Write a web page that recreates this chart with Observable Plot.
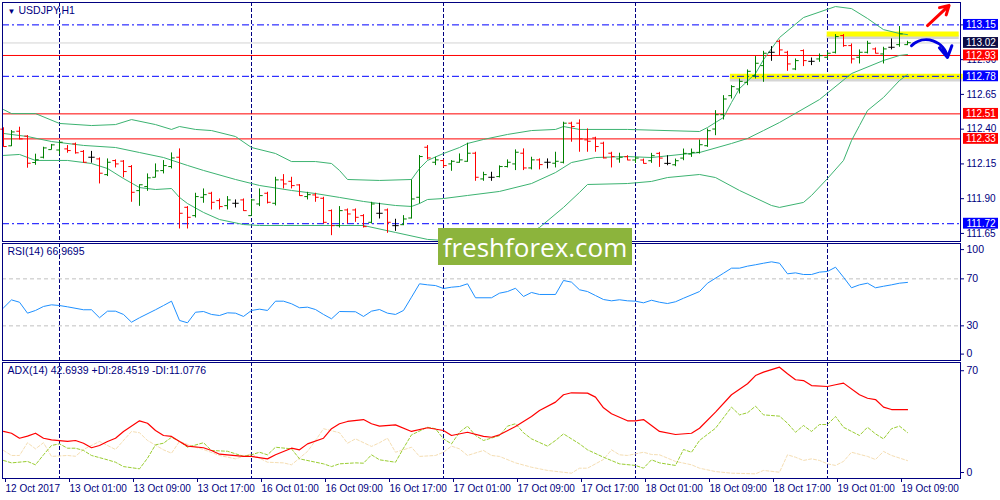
<!DOCTYPE html>
<html><head><meta charset="utf-8">
<script src="https://cdn.jsdelivr.net/npm/d3@7"></script>
<script src="https://cdn.jsdelivr.net/npm/@observablehq/plot@0.6"></script>
<style>
body{margin:0;background:#fff;}
#wrap{position:relative;width:1000px;height:500px;overflow:hidden;background:#fff;}
#wrap svg{position:absolute;}
#wm{position:absolute;left:438px;top:228px;width:194px;height:37px;background:#8cb43c;color:#fff;font:26px "Open Sans",sans-serif;display:flex;align-items:center;justify-content:center;letter-spacing:0px;}
</style></head><body><div id="wrap"></div>
<script>
// ---- DATA ----
const title = "USDJPY,H1";
const rsiTitle = "RSI(14) 66.9695";
const adxTitle = "ADX(14) 42.6939 +DI:28.4519 -DI:11.0776";
const openP = [112.40,112.28,112.385,112.35,112.16,112.198,112.253,112.25,112.258,112.294,112.24,112.198,112.186,112.073,112.174,112.17,112.131,111.958,111.987,112.054,
112.102,112.131,112.198,111.838,111.778,111.91,111.939,111.886,111.85,111.867,111.891,111.778,111.862,111.939,111.867,112.035,112.025,111.999,111.915,111.927,
111.903,111.814,111.706,111.819,111.819,111.778,111.73,111.795,111.819,111.706,111.713,111.761,111.91,112.27,112.162,112.174,112.15,112.162,112.169,112.227,
112.042,112.054,112.059,112.131,112.15,112.227,112.121,112.179,112.162,112.155,112.162,112.443,112.443,112.323,112.337,112.299,112.227,112.186,112.202,112.178,
112.178,112.173,112.226,112.154,112.144,112.192,112.221,112.233,112.281,112.401,112.504,112.641,112.689,112.737,112.785,112.857,112.953,113.032,112.953,112.833,
112.965,112.888,112.905,112.917,112.953,113.073,113.001,112.917,112.953,112.977,112.941,112.989,113.008,113.008];
const highP = [112.41,112.39,112.414,112.354,112.22,112.27,112.29,112.313,112.282,112.30,112.246,112.24,112.193,112.186,112.179,112.174,112.138,112.0,112.078,112.15,
112.174,112.229,112.258,111.843,111.939,111.97,111.946,111.898,111.915,111.891,111.898,111.896,111.97,111.946,112.054,112.073,112.054,112.001,111.946,111.939,
111.91,111.819,111.843,111.826,111.826,111.785,111.874,111.867,111.826,111.752,111.778,112.035,112.21,112.282,112.198,112.179,112.174,112.222,112.299,112.234,
112.09,112.09,112.136,112.179,112.251,112.258,112.198,112.186,112.186,112.234,112.45,112.45,112.467,112.402,112.342,112.306,112.234,112.227,112.209,112.202,
112.185,112.226,112.233,112.209,112.185,112.257,112.257,112.322,112.401,112.533,112.641,112.713,112.761,112.826,112.922,112.96,112.994,113.04,112.96,112.905,
112.97,112.912,112.941,112.953,113.08,113.08,113.013,112.97,113.032,112.984,112.989,113.049,113.138,113.032];
const lowP = [112.27,112.275,112.323,112.119,112.14,112.186,112.25,112.215,112.227,112.22,112.155,112.155,112.006,112.059,112.121,112.05,111.874,111.845,111.953,112.05,
112.078,112.114,111.682,111.682,111.761,111.867,111.819,111.819,111.819,111.833,111.809,111.776,111.843,111.862,111.848,111.97,111.97,111.917,111.891,111.874,
111.718,111.634,111.689,111.718,111.73,111.689,111.718,111.754,111.651,111.665,111.706,111.754,111.862,112.179,112.138,112.121,112.097,112.155,112.162,112.025,
112.025,112.025,112.049,112.121,112.102,112.102,112.107,112.107,112.114,112.121,112.15,112.306,112.234,112.234,112.234,112.186,112.121,112.155,112.173,112.154,
112.149,112.154,112.125,112.137,112.13,112.173,112.197,112.221,112.269,112.353,112.466,112.617,112.653,112.713,112.761,112.737,112.888,112.929,112.816,112.821,
112.85,112.857,112.881,112.905,112.941,112.989,112.869,112.869,112.941,112.941,112.869,112.97,112.989,113.001];
const closeP = [112.275,112.38,112.33,112.155,112.18,112.265,112.287,112.306,112.246,112.23,112.162,112.198,112.083,112.162,112.15,112.095,111.946,112.0,112.05,112.10,
112.138,112.193,111.795,111.766,111.915,111.929,111.874,111.843,111.891,111.867,111.814,111.891,111.922,111.874,112.035,112.006,111.994,111.922,111.929,111.91,
111.73,111.706,111.814,111.79,111.766,111.699,111.862,111.795,111.73,111.706,111.754,111.898,112.203,112.193,112.179,112.138,112.169,112.179,112.227,112.054,
112.073,112.054,112.131,112.162,112.234,112.121,112.179,112.145,112.162,112.169,112.443,112.419,112.33,112.313,112.275,112.193,112.203,112.198,112.178,112.192,
112.154,112.209,112.192,112.154,112.173,112.226,112.233,112.288,112.389,112.504,112.617,112.706,112.744,112.816,112.874,112.946,112.953,112.97,112.869,112.893,
112.893,112.888,112.929,112.946,113.066,113.001,112.905,112.953,113.018,112.946,112.977,112.989,113.085,113.022];

const bbUpper = [[0,112.541],[1,112.512],[4,112.512],[7,112.441],[11,112.426],[14,112.433],[16,112.469],[19,112.433],[21,112.398],[22,112.419],[24,112.398],[26,112.39],[29,112.347],[31,112.268],[34,112.225],[36,112.167],[39,112.167],[41,112.153],[42,112.103],[43,112.038],[47,112.031],[51,112.038],[52,112.117],[53,112.175],[55,112.225],[57,112.268],[58,112.297],[60,112.326],[63,112.362],[66,112.39],[69,112.398],[70,112.419],[72,112.398],[78,112.398],[87,112.383],[88,112.412],[90,112.484],[91,112.592],[92,112.692],[94,112.80],[95,112.90],[97,113.059],[100,113.203],[104,113.282],[106,113.267],[108,113.196],[110,113.116],[112,113.088],[113,113.08]];
const bbMiddle = [[0,112.369],[3,112.347],[6,112.311],[10,112.283],[14,112.268],[17,112.232],[20,112.196],[23,112.139],[25,112.103],[29,112.038],[32,111.995],[36,111.959],[39,111.937],[42,111.909],[45,111.88],[47,111.865],[49,111.851],[51,111.844],[52,111.865],[53,111.894],[55,111.901],[58,111.923],[62,111.952],[66,112.009],[69,112.088],[71,112.16],[74,112.196],[78,112.203],[81,112.196],[87,112.232],[91,112.297],[93,112.333],[95,112.39],[97,112.448],[102,112.613],[106,112.80],[110,112.894],[112,112.93],[113,112.937]];
const bbLower = [[0,112.211],[2,112.218],[4,112.175],[8,112.175],[11,112.153],[13,112.117],[15,112.045],[17,111.98],[19,111.966],[21,111.973],[22,111.909],[23,111.865],[25,111.801],[27,111.75],[30,111.714],[32,111.707],[35,111.707],[41,111.707],[45,111.707],[49,111.657],[53,111.607],[55,111.60],[60,111.57],[64,111.60],[67,111.693],[70,111.837],[72,111.945],[73,112.002],[78,112.009],[81,112.024],[83,112.052],[87,112.074],[89,112.052],[92,111.959],[96,111.851],[97,111.837],[100,111.873],[101,111.923],[103,112.045],[105,112.175],[106,112.318],[107,112.426],[108,112.534],[110,112.628],[112,112.75],[113,112.793]];

const rsi = [[0,45.3],[1,52.1],[2,50.1],[3,40.8],[4,43.1],[5,46.5],[6,47.9],[7,47.3],[8,46.2],[10,43.7],[11,43.7],[12,36.9],[13,42.5],[14,42.5],[15,39.7],[16,33.1],[17,36.9],[19,43.7],[20,47.3],[21,51],[22,34.6],[23,32.6],[24,41.6],[25,42.2],[26,39.7],[27,38.8],[28,41.1],[29,40.8],[30,38],[31,43.1],[32,44.2],[33,43.1],[34,51],[35,51],[36,48.8],[37,45.4],[38,45.9],[39,43.9],[40,39.7],[41,36],[42,42.2],[44,42],[45,38],[46,42.5],[47,43.9],[48,40.8],[49,39.7],[50,43.1],[51,54.4],[52,65.8],[53,64.9],[54,64.3],[55,61.8],[56,62.9],[57,63.5],[58,65.8],[59,53.9],[61,53.9],[62,57.8],[63,59.2],[64,62],[65,55],[66,58.4],[67,56.7],[69,56.7],[70,68.6],[71,67.2],[72,60.7],[73,59.2],[74,55.8],[75,52.4],[76,51.3],[77,52.2],[78,51.3],[79,51],[80,49.6],[81,51.8],[82,50.1],[83,49],[84,50.5],[85,53.5],[87,59.2],[88,66.3],[90,74.8],[91,79.1],[92,79.1],[93,80.8],[94,82],[95,83.3],[96,84.5],[97,83.3],[98,74.3],[99,75.1],[100,73.7],[101,73.7],[102,75.7],[103,76.3],[104,79.9],[105,71.4],[106,62.4],[107,64.9],[108,66.3],[109,62.4],[110,63.7],[111,64.9],[112,66.3],[113,66.97]];

const adx = [[0,29.2],[1,28.1],[2,25],[3,26.3],[4,28.1],[5,25],[6,24],[8,23],[9,23.6],[10,21.9],[11,19.1],[12,20.5],[13,23],[14,25],[15,29.2],[17,35.8],[18,34.3],[19,29.8],[20,26.7],[21,26.1],[22,23],[23,20.1],[25,19.1],[26,17.4],[27,15.1],[28,14.7],[30,13.7],[31,13.7],[33,12.2],[34,14.7],[36,18.8],[37,17.8],[38,21.5],[40,25],[41,30.9],[42,34],[43,35.4],[45,36.6],[46,34],[47,32.5],[49,33.3],[51,29.2],[53,31.5],[55,29.8],[56,26.7],[58,28.7],[60,26.1],[61,25.6],[62,27.1],[64,32.3],[66,38.5],[67,42.2],[69,47.4],[70,52],[71,53.2],[73,53],[74,50.5],[75,43.9],[76,40.2],[78,35.8],[79,35.8],[80,36.6],[81,32.9],[82,29.2],[84,27.3],[86,28.1],[87,31.2],[89,41.2],[91,52],[93,58.8],[94,63.9],[95,66],[97,69.1],[98,65],[99,61.3],[100,60.8],[101,57.7],[103,57.1],[104,58.2],[105,59.2],[107,52],[108,49.8],[109,49],[110,44.3],[111,42.8],[112,42.8],[113,42.7]];
const plusDI = [[0,11.2],[1,9.7],[3,10.6],[4,8.5],[5,14.7],[6,20.5],[7,21.5],[8,18.8],[9,18.8],[10,17.4],[11,14.3],[13,11.6],[14,10.1],[15,7.4],[17,6],[18,12.6],[19,20.9],[20,21.9],[21,25.6],[22,23],[23,19.4],[25,22.2],[26,17.4],[28,16.9],[30,13.8],[31,14.7],[32,16.3],[33,14.7],[34,19.4],[36,18.4],[37,12.2],[40,9.1],[41,7.4],[42,9.1],[44,9.7],[45,9.5],[46,14.7],[47,11.6],[49,10.1],[50,18.8],[51,27.1],[53,31.8],[54,30.9],[55,24.6],[56,21.5],[57,28.7],[58,32.5],[59,26.7],[60,23.6],[62,26.6],[63,32.5],[64,34],[65,28.4],[66,24.6],[68,20.1],[69,23.6],[70,27.7],[72,21.5],[73,17.8],[75,13.2],[77,9.1],[79,8.1],[80,6.4],[81,11.6],[82,9.7],[84,8.1],[85,18],[86,16.3],[87,23.6],[89,31.2],[91,44.3],[92,39.5],[93,40.8],[94,44.9],[95,39.5],[97,38.7],[98,34.3],[99,28.7],[100,32.9],[101,29.2],[102,33.5],[103,33.5],[104,38.5],[105,31.8],[107,26.7],[108,31.8],[109,27.7],[110,24.6],[111,30.9],[112,32.5],[113,28.5]];
const minusDI = [[0,17.4],[1,14.3],[2,14.3],[3,22.2],[4,18.4],[5,22.2],[6,13.7],[8,14.3],[9,13.8],[10,18],[12,23],[13,20.5],[14,18],[16,29.2],[17,28.4],[18,23.6],[20,17.8],[21,15.7],[22,23],[24,19.4],[25,18],[27,14.3],[29,12.2],[30,13.8],[31,15.3],[33,10.1],[35,9.7],[36,8.5],[38,16.8],[39,23.6],[40,30.9],[42,28.4],[43,21.9],[44,24.6],[46,19.9],[47,22.2],[48,25],[49,16.3],[51,19.4],[52,13.7],[54,14.3],[55,16.3],[56,20.1],[57,18.4],[58,14.3],[60,17.4],[61,14.3],[62,13.7],[64,9.7],[66,7],[68,5],[71,3.3],[72,6.4],[73,6.4],[75,11.8],[76,17.8],[77,14.7],[78,14.3],[80,16.3],[81,14.9],[82,14.7],[84,10.6],[86,8.5],[87,6.4],[89,4.3],[91,3.3],[94,2.9],[95,5],[97,3.9],[98,14.7],[99,13.2],[100,11.2],[101,12.2],[102,11.2],[103,9.1],[104,8.1],[105,10.6],[106,16.3],[108,13.7],[109,11.8],[110,16.8],[111,14.3],[113,11.1]];

const xTickIdx = [0,8,16,24,32,40,48,56,64,72,80,88,96,104,112];
const xTickLabels = ["12 Oct 2017","13 Oct 01:00","13 Oct 09:00","13 Oct 17:00","16 Oct 01:00","16 Oct 09:00","16 Oct 17:00","17 Oct 01:00","17 Oct 09:00","17 Oct 17:00","18 Oct 01:00","18 Oct 09:00","18 Oct 17:00","19 Oct 01:00","19 Oct 09:00"];
const dayStartIdx = [7,31,55,79,103];
const priceTicks = [111.65,111.90,112.15,112.40,112.65,112.90,113.15];
const redLevels = [112.93,112.51,112.33];
const blueLevels = [113.15,112.78,111.72];
const bidPrice = 113.02;
const boxLevels = [
  {p:113.15,bg:"#0000ff"},{p:113.02,bg:"#0c0c46"},{p:112.93,bg:"#ff0000"},
  {p:112.78,bg:"#0000ff"},{p:112.51,bg:"#ff0000"},{p:112.33,bg:"#ff0000"},{p:111.72,bg:"#0000ff"}];
const yellowZones = [{p:113.085,from:102.9,to:119.4},{p:112.78,from:90.8,to:119.9}];
const upArrow = [{i1:115.5,p1:113.145,i2:118.2,p2:113.29}];
const downArrow = [{i1:113.5,p1:113.0,i2:118.0,p2:112.915}];
const rsiLevels = [30,70];

// ---- RENDER ----
const navy = "#000080";
const font = "'Liberation Sans', Arial, sans-serif";
const X = {domain:[-0.125,119.625], axis:null};
const bars = openP.map((o,i)=>({i,o,h:highP[i],l:lowP[i],c:closeP[i]}));
const barColor = d => d.c > d.o ? "#008000" : d.c < d.o ? "#ff0000" : "#000000";
const yMain = {domain:[111.592,113.311], axis:null};
const styleBase = {fontFamily:font, fontSize:"10.5px", background:"transparent", overflow:"visible"};
const bbLine = arr => Plot.line(arr,{x:d=>d[0], y:d=>d[1], stroke:"#3cb371", strokeWidth:1, clip:true});

const main = Plot.plot({
  width:1000, height:242, marginLeft:2, marginRight:40, marginTop:2, marginBottom:1,
  x:X, y:yMain, style:styleBase,
  marks:[
    Plot.ruleX(dayStartIdx,{stroke:navy, strokeDasharray:"4,2"}),
    Plot.link(yellowZones,{x1:"from",x2:"to",y1:d=>d.p-0.022,y2:d=>d.p-0.022,stroke:"#888",strokeOpacity:0.35,strokeWidth:4}),
    Plot.link(yellowZones,{x1:"from",x2:"to",y1:"p",y2:"p",stroke:"#ffff00",strokeWidth:5}),
    Plot.ruleY([bidPrice],{stroke:"#d3d3d3"}),
    Plot.ruleY(redLevels,{stroke:"#ff0000"}),
    Plot.ruleY(blueLevels,{stroke:"#0000ff", strokeDasharray:"7,3,2,3"}),
    bbLine(bbUpper), bbLine(bbMiddle), bbLine(bbLower),
    Plot.ruleX(bars,{x:"i", y1:"l", y2:"h", stroke:barColor}),
    Plot.link(bars,{x1:d=>d.i-0.4, x2:"i", y1:"o", y2:"o", stroke:barColor}),
    Plot.link(bars,{x1:"i", x2:d=>d.i+0.4, y1:"c", y2:"c", stroke:barColor}),
    Plot.arrow(upArrow,{x1:"i1",y1:"p1",x2:"i2",y2:"p2",stroke:"#ff0000",strokeWidth:3,headLength:9}),
    Plot.arrow(downArrow,{x1:"i1",y1:"p1",x2:"i2",y2:"p2",stroke:"#0000e0",strokeWidth:3,headLength:9,bend:62}),
    Plot.frame({stroke:navy}),
    Plot.axisY(priceTicks,{anchor:"right", tickSize:3, tickPadding:3, tickFormat:d=>d.toFixed(2), color:navy, fontSize:10}),
    Plot.text(["▼"],{frameAnchor:"top-left", dx:5, dy:6, fontSize:8, fill:navy, textAnchor:"start", lineAnchor:"top"}),
    Plot.text([title],{frameAnchor:"top-left", dx:16, dy:4, fill:navy, textAnchor:"start", lineAnchor:"top"})
  ]
});
main.style.left="0px"; main.style.top="0px";

const boxes = Plot.plot({
  width:35, height:242, marginLeft:0, marginRight:0, marginTop:2, marginBottom:1,
  x:{domain:[0,1],axis:null}, y:yMain, style:styleBase,
  marks:[
    Plot.rect(boxLevels,{x1:0,x2:1,y1:d=>d.p-0.039,y2:d=>d.p+0.039,fill:"bg"}),
    Plot.text(boxLevels,{x:0.5,y:"p",text:d=>d.p.toFixed(2),fill:"#ffffff",fontSize:10})
  ]
});
boxes.style.left="963px"; boxes.style.top="0px";

const rsiPlot = Plot.plot({
  width:1000, height:119, marginLeft:2, marginRight:40, marginTop:1, marginBottom:1,
  x:X, y:{domain:[0,100], range:[118.6,1.1], axis:null}, style:styleBase,
  marks:[
    Plot.ruleX(dayStartIdx,{stroke:navy, strokeDasharray:"4,2"}),
    Plot.ruleY(rsiLevels,{stroke:"#c0c0c0", strokeDasharray:"4,3"}),
    Plot.line(rsi,{x:d=>d[0], y:d=>d[1], stroke:"#1e90ff", strokeWidth:1}),
    Plot.frame({stroke:navy}),
    Plot.axisY([30,70],{anchor:"right", tickSize:3, tickPadding:3, color:navy}),
    Plot.axisY([100],{anchor:"right", tickSize:3, tickPadding:3, color:navy, dy:6}),
    Plot.axisY([0],{anchor:"right", tickSize:3, tickPadding:3, color:navy, dy:-7}),
    Plot.text([rsiTitle],{frameAnchor:"top-left", dx:5, dy:4, fill:navy, textAnchor:"start", lineAnchor:"top"})
  ]
});
rsiPlot.style.left="0px"; rsiPlot.style.top="242px";

const adxPlot = Plot.plot({
  width:1000, height:139, marginLeft:2, marginRight:40, marginTop:1, marginBottom:22,
  x:X, y:{domain:[0,72], range:[117,1], axis:null}, style:styleBase,
  marks:[
    Plot.ruleX(dayStartIdx,{stroke:navy, strokeDasharray:"4,2"}),
    Plot.line(minusDI,{x:d=>d[0], y:d=>d[1], stroke:"#f5deb3", strokeWidth:1, strokeDasharray:"3,2"}),
    Plot.line(plusDI,{x:d=>d[0], y:d=>d[1], stroke:"#9acd32", strokeWidth:1, strokeDasharray:"3,2"}),
    Plot.line(adx,{x:d=>d[0], y:d=>d[1], stroke:"#ff0000", strokeWidth:1.2}),
    Plot.frame({stroke:navy}),
    Plot.axisY([70],{anchor:"right", tickSize:3, tickPadding:3, color:navy, dy:5}),
    Plot.axisY([0],{anchor:"right", tickSize:3, tickPadding:3, color:navy, dy:-6}),
    Plot.axisX(xTickIdx,{anchor:"bottom", tickSize:4, tickPadding:2, color:navy, textAnchor:"start", dx:2, fontSize:10,
      tickFormat:d=>xTickLabels[xTickIdx.indexOf(d)]}),
    Plot.text([adxTitle],{frameAnchor:"top-left", dx:5, dy:4, fill:navy, textAnchor:"start", lineAnchor:"top"})
  ]
});
adxPlot.style.left="0px"; adxPlot.style.top="361px";

const wrap = document.getElementById("wrap");
wrap.append(main, rsiPlot, adxPlot, boxes);
const wm = document.createElement("div");
wm.id="wm"; wm.textContent="freshforex.com";
wrap.append(wm);
</script></body></html>
